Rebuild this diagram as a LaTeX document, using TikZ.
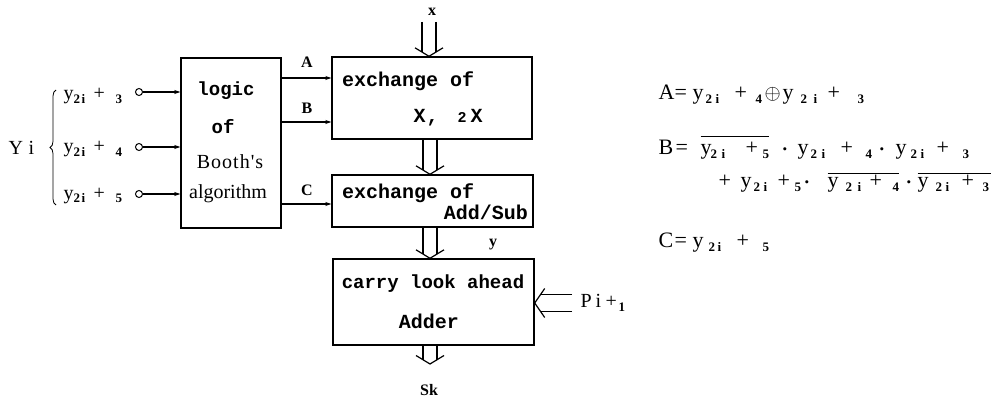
\documentclass[tikz,border=0pt]{standalone}
\usepackage{fontspec}
\setmainfont{Liberation Serif}
\newfontfamily\tmono{Liberation Mono}
\usetikzlibrary{arrows.meta,decorations.pathreplacing}
\newcommand{\pat}[2]{\rlap{\kern#1pt #2}}
\newcommand{\sbx}[1]{\raisebox{-4pt}{\fontsize{13}{13}\selectfont\bfseries #1}}
\newcommand{\ovl}[3]{\rlap{\kern#1pt\rule[#3pt]{#2pt}{0.9pt}}}
\newcommand{\ctd}{$\boldsymbol{\cdot}$}
% down double arrow: #1 start, #2 tip
\newcommand{\ddown}[2]{%
  \draw[dline] ([shift={(-7,0)}]#1) -- ([shift={(-7,-4.5)}]#2);
  \draw[dline] ([shift={(7,0)}]#1) -- ([shift={(7,-4.5)}]#2);
  \draw[dline] ([shift={(-14,-8.5)}]#2) -- (#2) -- ([shift={(14,-8.5)}]#2);}
\usepackage{amsmath}
\begin{document}
\begin{tikzpicture}[x=1pt,y=-1pt,
  blk/.style={draw,line width=1.4pt,inner sep=0pt},
  boxtxt/.style={inner sep=0pt,font=\fontsize{20}{22}\tmono\bfseries},
  logtxt/.style={inner sep=0pt,font=\fontsize{19}{22}\tmono\bfseries},
  lbl/.style={inner sep=0pt,font=\fontsize{16}{18}\bfseries},
  sig/.style={line width=1.1pt,-{Stealth[length=6pt,width=4pt]}},
  dline/.style={line width=1.2pt},
  eq/.style={inner sep=0pt,anchor=base west,font=\fontsize{22}{24}\selectfont},
  yeq/.style={inner sep=0pt,anchor=base west,font=\fontsize{20}{22}\selectfont}]
\useasboundingbox (0,0) rectangle (999,401);
\fill[white] (0,0) rectangle (999,401);
% blocks
\node[blk,minimum width=100pt,minimum height=170pt] (logic) at (231,143) {};
\node[blk,minimum width=200pt,minimum height=82pt] (ex) at (432,98) {};
\node[blk,minimum width=201pt,minimum height=52pt] (as) at (432.5,201) {};
\node[blk,minimum width=201pt,minimum height=86pt] (add) at (433.5,302) {};
% block texts
\node[logtxt] (t1) at (226,91) {logic};
\node[logtxt] (t2) at (223,127) {of};
\node[inner sep=0pt,font=\fontsize{20}{22}\selectfont] (t3) at (230,162) {B\kern1pt o\kern1pt o\kern1pt t\kern1pt h\kern1pt\textquotesingle\kern1pt s};
\node[inner sep=0pt,font=\fontsize{20}{22}\selectfont] (t4) at (228,194) {algorithm};
\node[boxtxt,anchor=west] (e1) at (342,81) {exchange of};
\node[boxtxt,anchor=base west] (e2) at (413,123) {\pat{0}{X}\pat{13}{,}\pat{44}{\fontsize{15}{15}\selectfont 2}\pat{57}{X}\hspace{72pt}};
\node[boxtxt,anchor=west] (a1) at (342,193) {exchange of};
\node[boxtxt,anchor=east] (a2) at (528,212) {Add/Sub};
\node[boxtxt,font=\fontsize{19}{22}\tmono\bfseries] (c1) at (433,284) {carry look ahead};
\node[boxtxt] (c2) at (429,321) {Adder};
% inputs
\node[circle,draw,line width=1pt,inner sep=0pt,minimum size=7pt] (i3) at (139,92) {};
\node[circle,draw,line width=1pt,inner sep=0pt,minimum size=7pt] (i4) at (139,147) {};
\node[circle,draw,line width=1pt,inner sep=0pt,minimum size=7pt] (i5) at (139,194) {};
\draw[sig] (i3) -- (i3 -| logic.west);
\draw[sig] (i4) -- (i4 -| logic.west);
\draw[sig] (i5) -- (i5 -| logic.west);
\node[yeq] (y3) at (63,100) {\pat{0}{y}\pat{10}{\sbx{2}}\pat{18}{\sbx{i}}\pat{30}{+}\pat{52}{\sbx{3}}\hspace{58pt}};
\node[yeq] (y4) at (63,153) {\pat{0}{y}\pat{10}{\sbx{2}}\pat{18}{\sbx{i}}\pat{30}{+}\pat{52}{\sbx{4}}\hspace{58pt}};
\node[yeq] (y5) at (63,199) {\pat{0}{y}\pat{10}{\sbx{2}}\pat{18}{\sbx{i}}\pat{30}{+}\pat{52}{\sbx{5}}\hspace{58pt}};
\draw[line width=0.8pt,decorate,decoration={brace,amplitude=6pt}] (56,205) -- (56,90);
\node[yeq] (yi) at (8,155) {\pat{0}{Y}\pat{20}{i}\hspace{25pt}};
% A B C
\coordinate (pa) at (281,78);
\coordinate (pb) at (281,122);
\coordinate (pc) at (281,204);
\draw[sig] (pa) -- (pa -| ex.west);
\draw[sig] (pb) -- (pb -| ex.west);
\draw[sig] (pc) -- (pc -| as.west);
\node[lbl] (la) at (307,62) {A};
\node[lbl] (lb) at (307,108) {B};
\node[lbl] (lc) at (307,190) {C};
% double arrows
\coordinate (xin) at (429,22);
\coordinate (xtip) at (xin |- ex.north);
\ddown{xin}{xtip}
\node[lbl] (lx) at (432,12) {x};
\coordinate (m1) at (430,139);
\coordinate (m1t) at (m1 |- as.north);
\ddown{m1}{m1t}
\coordinate (m2) at (430,227);
\coordinate (m2t) at (m2 |- add.north);
\ddown{m2}{m2t}
\node[lbl] (ly) at (493,245) {y};
\coordinate (m3) at (430,345);
\coordinate (m4) at (430,364);
\ddown{m3}{m4}
\node[lbl] (sk) at (429,390) {Sk};
\coordinate (pin) at (572,303);
\coordinate (pint) at (pin -| add.east);
\draw[dline] ([shift={(0,-8.5)}]pin) -- ([shift={(6,-8.5)}]pint);
\draw[dline] ([shift={(0,8.5)}]pin) -- ([shift={(6,8.5)}]pint);
\draw[dline] ([shift={(10,-14.5)}]pint) -- (pint) -- ([shift={(10,14.5)}]pint);
\node[yeq] (pi) at (580,307) {\pat{0}{P}\pat{15}{i}\pat{25}{+}\pat{38}{\sbx{1}}\hspace{44pt}};
% equations
\node[eq] (eqa) at (658,100) {\pat{0}{A}\pat{16}{=}\pat{34}{y}\pat{47}{\sbx{2}}\pat{57}{\sbx{i}}\pat{76}{+}\pat{97}{\sbx{4}}\pat{106}{$\oplus$}\pat{124}{y}\pat{142}{\sbx{2}}\pat{155}{\sbx{i}}\pat{169}{+}\pat{199}{\sbx{3}}\hspace{206pt}};
\node[eq] (eqb) at (658,155) {\pat{0}{B}\pat{17}{=}\ovl{42}{68}{18}\pat{42}{y}\pat{52}{\sbx{2}}\pat{63}{\sbx{i}}\pat{87}{+}\pat{104}{\sbx{5}}\pat{123}{\ctd}\pat{139}{y}\pat{152}{\sbx{2}}\pat{163}{\sbx{i}}\pat{182}{+}\pat{207}{\sbx{4}}\pat{220}{\ctd}\pat{237}{y}\pat{252}{\sbx{2}}\pat{262}{\sbx{i}}\pat{278}{+}\pat{304}{\sbx{3}}\hspace{311pt}};
\node[eq] (eqb2) at (718,188) {\pat{0}{+}\pat{22}{y}\pat{35}{\sbx{2}}\pat{45}{\sbx{i}}\pat{59}{+}\pat{76}{\sbx{5}}\pat{85}{\ctd}\ovl{109}{71}{14}\pat{109}{y}\pat{127}{\sbx{2}}\pat{139}{\sbx{i}}\pat{151}{+}\pat{174}{\sbx{4}}\pat{187}{\ctd}\ovl{199}{73}{14}\pat{199}{y}\pat{217}{\sbx{2}}\pat{227}{\sbx{i}}\pat{243}{+}\pat{264}{\sbx{3}}\hspace{272pt}};
\node[eq] (eqc) at (658,247) {\pat{0}{C}\pat{16}{=}\pat{34}{y}\pat{50}{\sbx{2}}\pat{59}{\sbx{i}}\pat{78}{+}\pat{104}{\sbx{5}}\hspace{111pt}};
\end{tikzpicture}
\end{document}
